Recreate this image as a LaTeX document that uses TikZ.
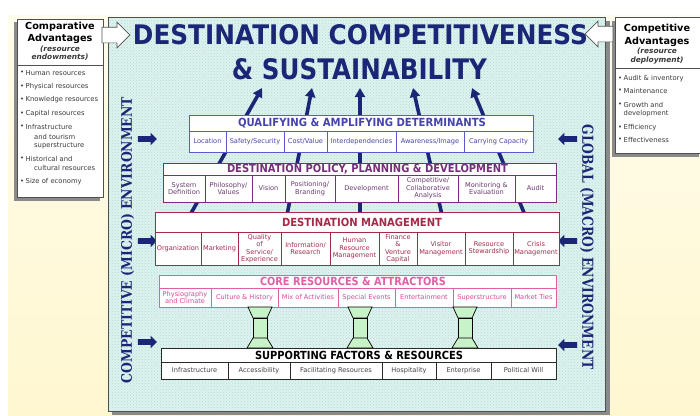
\documentclass[tikz,border=0pt]{standalone}
\usepackage{graphicx}
\usepackage{fontspec}
\setmainfont{DejaVu Sans}
\newfontfamily\slabfont{DejaVu Serif}
\usetikzlibrary{patterns,shapes.arrows,arrows.meta}

\definecolor{navy}{HTML}{1B2676}
\definecolor{creamtop}{HTML}{FFFDEC}
\definecolor{creambot}{HTML}{FFF7D0}
\definecolor{framefill}{HTML}{DDF3EF}
\definecolor{dotc}{HTML}{B2D9D3}
\definecolor{shadowgrey}{HTML}{8A8A8A}
\definecolor{framec}{HTML}{505050}
\definecolor{qadc}{HTML}{5A5AC8}
\definecolor{qadt}{HTML}{4444AA}
\definecolor{dppc}{HTML}{7A2C7E}
\definecolor{dppt}{HTML}{6A3A6E}
\definecolor{dmc}{HTML}{A82848}
\definecolor{dmt}{HTML}{A02C4C}
\definecolor{crac}{HTML}{E060A8}
\definecolor{crat}{HTML}{D84898}
\definecolor{sfrc}{HTML}{2A2A2A}
\definecolor{sfrt}{HTML}{404040}
\definecolor{pillarfill}{HTML}{C8F2C8}
\definecolor{bodytext}{HTML}{3A3A3A}

% text squeezed or stretched to a given width and cap height
\newcommand\fitbox[3]{\resizebox{#1pt}{#2pt}{#3}}
% one labelled cell of a layer: name, x0, x1, y0, y1, layer style, text
\newcommand\cellbox[7]{%
  \draw[#6] (#2,#4) rectangle (#3,#5);
  \node[celltext,#6,draw=none,fill=none] (#1) at ({(#2+#3)/2},{(#4+#5)/2}) {#7};}
% a column joining the core resources to the supporting factors
\newcommand\pillar[2]{%
  \coordinate (#1) at (#2,327);
  \filldraw[pillarstyle] (#2-12,307) -- (#2+12,307) -- (#2+7,318) -- (#2-7,318) -- cycle;
  \filldraw[pillarstyle] (#2-7,318) rectangle (#2+7,338);
  \filldraw[pillarstyle] (#2-7,338) -- (#2+7,338) -- (#2+13,348) -- (#2-13,348) -- cycle;}
% bulleted list entry: name, x, y, text
\newcommand\bitem[4]{%
  \node[bultext] (#1) at (#2,#3) {\textbullet};
  \node[bultext] (#1t) at (#2+5.5,#3) {#4};}

\begin{document}
\begin{tikzpicture}[x=1pt,y=-1pt,
  celltext/.style={font=\fontsize{6.6}{7.4}\selectfont, align=center, inner sep=0pt},
  hdr/.style={font=\bfseries, inner sep=0pt},
  bultext/.style={font=\fontsize{6.8}{7.6}\selectfont, text=bodytext, anchor=west, inner sep=0pt},
  qad/.style={draw=qadc, text=qadt, fill=white, line width=0.8pt},
  dpp/.style={draw=dppc, text=dppt, fill=white, line width=0.9pt},
  dm/.style={draw=dmc, text=dmt, fill=white, line width=0.9pt},
  cra/.style={draw=crac, text=crat, fill=white, line width=0.8pt},
  sfr/.style={draw=sfrc, text=sfrt, fill=white, line width=0.8pt},
  pillarstyle/.style={fill=pillarfill, draw=black, line width=0.7pt},
  fanarrow/.style={navy, line width=3.6pt, -{Triangle[length=9pt,width=10pt]}},
  envarrow/.style={single arrow, fill=navy, draw=none, minimum height=19pt,
    minimum width=12pt, inner sep=2.6pt, single arrow head extend=3.4pt},
  advarrow/.style={single arrow, fill=white, draw=framec, line width=0.7pt,
    minimum height=28pt, minimum width=25pt, inner sep=7.5pt, single arrow head extend=5pt},
  sidebox/.style={fill=white, draw=framec, line width=0.8pt}]

\useasboundingbox (0,0) rectangle (700,415);
\fill[white] (0,0) rectangle (700,415);
\shade[top color=creamtop, bottom color=creambot] (8,15) rectangle (700,415);

% central frame with its dotted cyan ground
\fill[shadowgrey] (112,21) rectangle (610,415);
\fill[framefill] (108,17) rectangle (605,411);
\fill[pattern=crosshatch dots, pattern color=dotc] (108,17) rectangle (605,411);
\draw[framec, line width=0.8pt] (108,17) rectangle (605,411);

% comparative advantages
\fill[shadowgrey] (14,22) rectangle (100,201);
\draw[sidebox] (17,19) rectangle (103,197);
\draw[framec, line width=0.8pt] (17,65) -- (103,65);
\node[font=\fontsize{9.7}{12}\selectfont\bfseries, align=center, inner sep=0pt] (cah) at (60,33) {Comparative\\Advantages};
\node[font=\fontsize{7.4}{8.2}\selectfont\bfseries\itshape, align=center, inner sep=0pt, text=bodytext] (cas) at (60,53) {(resource\\endowments)};
\bitem{ca1}{20}{73}{Human resources}
\bitem{ca2}{20}{87}{Physical resources}
\bitem{ca3}{20}{100}{Knowledge resources}
\bitem{ca4}{20}{114}{Capital resources}
\bitem{ca5}{20}{127}{Infrastructure}
\node[bultext] (ca5b) at (34,136.5) {and tourism};
\node[bultext] (ca5c) at (34,146) {superstructure};
\bitem{ca6}{20}{159}{Historical and}
\node[bultext] (ca6b) at (34,168) {cultural resources};
\bitem{ca7}{20}{182}{Size of economy}
\node[advarrow] (caarrow) at (112,35) {};

% competitive advantages
\fill[shadowgrey] (612,21) rectangle (699,157);
\draw[sidebox] (615,17) rectangle (703,153);
\draw[framec, line width=0.8pt] (615,68) -- (703,68);
\node[font=\fontsize{9.7}{12.5}\selectfont\bfseries, align=center, inner sep=0pt] (cdh) at (657,35.5) {Competitive\\Advantages};
\node[font=\fontsize{7.4}{9.5}\selectfont\bfseries\itshape, align=center, inner sep=0pt, text=bodytext] (cds) at (657,56) {(resource\\deployment)};
\bitem{cd1}{618}{79}{Audit \& inventory}
\bitem{cd2}{618}{91}{Maintenance}
\bitem{cd3}{618}{104.5}{Growth and}
\node[bultext] (cd3b) at (623.5,114) {development};
\bitem{cd4}{618}{128}{Efficiency}
\bitem{cd5}{618}{140}{Effectiveness}
\node[advarrow, shape border rotate=180] (cdarrow) at (603,34) {};

% title
\node[hdr, text=navy] (title1) at (360.5,35) {\fitbox{455}{20}{DESTINATION COMPETITIVENESS}};
\node[hdr, text=navy] (title2) at (359.5,69.5) {\fitbox{255}{21}{\& SUSTAINABILITY}};

% environment labels along the sides
\node[rotate=90, text=navy, inner sep=0pt] (micro) at (127.5,240) {\fitbox{286}{11}{\slabfont\bfseries COMPETITIVE (MICRO) ENVIRONMENT}};
\node[rotate=-90, text=navy, inner sep=0pt] (macro) at (587,247) {\fitbox{245}{11.5}{\slabfont\bfseries GLOBAL (MACRO) ENVIRONMENT}};
\node[envarrow] (ml1) at (146,139) {};
\node[envarrow] (ml2) at (146,241) {};
\node[envarrow] (ml3) at (146,342) {};
\node[envarrow, shape border rotate=180] (gl1) at (569,139) {};
\node[envarrow, shape border rotate=180] (gl2) at (569,241) {};
\node[envarrow, shape border rotate=180] (gl3) at (569,345) {};

% arrows rising from management to the title
\coordinate (fb1) at (190,215); \coordinate (ft1) at (262,88);
\coordinate (fb2) at (287,215); \coordinate (ft2) at (312,88);
\coordinate (fb3) at (360,215); \coordinate (ft3) at (360,88);
\coordinate (fb4) at (442,215); \coordinate (ft4) at (413,88);
\coordinate (fb5) at (525,215); \coordinate (ft5) at (472,88);
\foreach \i in {1,...,5} {\draw[fanarrow] (fb\i) -- (ft\i);}

% qualifying & amplifying determinants
\draw[qad] (189,115) rectangle (533,131);
\node[hdr, text=qadt] (qadh) at (362,123) {\fitbox{248}{8.3}{QUALIFYING \& AMPLIFYING DETERMINANTS}};
\cellbox{q1}{189}{226}{131}{152}{qad}{Location}
\cellbox{q2}{226}{284}{131}{152}{qad}{Safety/Security}
\cellbox{q3}{284}{327}{131}{152}{qad}{Cost/Value}
\cellbox{q4}{327}{396}{131}{152}{qad}{Interdependencies}
\cellbox{q5}{396}{464}{131}{152}{qad}{Awareness/Image}
\cellbox{q6}{464}{533}{131}{152}{qad}{Carrying Capacity}

% destination policy, planning & development
\draw[dpp] (163,163) rectangle (556,175);
\node[hdr, text=dppc] (dpph) at (367.5,169) {\fitbox{281}{8.3}{DESTINATION POLICY, PLANNING \& DEVELOPMENT}};
\cellbox{p1}{163}{205}{175}{202}{dpp}{System\\Definition}
\cellbox{p2}{205}{252}{175}{202}{dpp}{Philosophy/\\Values}
\cellbox{p3}{252}{285}{175}{202}{dpp}{Vision}
\cellbox{p4}{285}{335}{175}{202}{dpp}{Positioning/\\Branding}
\cellbox{p5}{335}{398}{175}{202}{dpp}{Development}
\cellbox{p6}{398}{458}{175}{202}{dpp}{Competitive/\\Collaborative\\Analysis}
\cellbox{p7}{458}{515}{175}{202}{dpp}{Monitoring \&\\Evaluation}
\cellbox{p8}{515}{556}{175}{202}{dpp}{Audit}

% destination management
\draw[dm] (155,212) rectangle (559,232);
\node[hdr, text=dmc] (dmh) at (362,222) {\fitbox{160}{8.3}{DESTINATION MANAGEMENT}};
\cellbox{m1}{155}{201}{232}{265}{dm}{Organization}
\cellbox{m2}{201}{238}{232}{265}{dm}{Marketing}
\cellbox{m3}{238}{281}{232}{265}{dm}{Quality\\of\\Service/\\Experience}
\cellbox{m4}{281}{330}{232}{265}{dm}{Information/\\Research}
\cellbox{m5}{330}{379}{232}{265}{dm}{Human\\Resource\\Management}
\cellbox{m6}{379}{417}{232}{265}{dm}{Finance\\\&\\Venture\\Capital}
\cellbox{m7}{417}{465}{232}{265}{dm}{Visitor\\Management}
\cellbox{m8}{465}{513}{232}{265}{dm}{Resource\\Stewardship}
\cellbox{m9}{513}{559}{232}{265}{dm}{Crisis\\Management}

% core resources & attractors
\draw[cra] (159,275) rectangle (556,288);
\node[hdr, text=crac] (crah) at (353,281.5) {\fitbox{186}{8.3}{CORE RESOURCES \& ATTRACTORS}};
\cellbox{c1}{159}{211}{288}{307}{cra}{Physiography\\and Climate}
\cellbox{c2}{211}{278}{288}{307}{cra}{Culture \& History}
\cellbox{c3}{278}{338}{288}{307}{cra}{Mix of Activities}
\cellbox{c4}{338}{395}{288}{307}{cra}{Special Events}
\cellbox{c5}{395}{453}{288}{307}{cra}{Entertainment}
\cellbox{c6}{453}{511}{288}{307}{cra}{Superstructure}
\cellbox{c7}{511}{556}{288}{307}{cra}{Market Ties}

% columns between the two lower layers
\pillar{col1}{260}
\pillar{col2}{360}
\pillar{col3}{465}

% supporting factors & resources
\draw[sfr] (161,348) rectangle (556,362);
\node[hdr, text=black] (sfrh) at (359,355) {\fitbox{208}{8.3}{SUPPORTING FACTORS \& RESOURCES}};
\cellbox{s1}{161}{228}{362}{379}{sfr}{Infrastructure}
\cellbox{s2}{228}{290}{362}{379}{sfr}{Accessibility}
\cellbox{s3}{290}{382}{362}{379}{sfr}{Facilitating Resources}
\cellbox{s4}{382}{436}{362}{379}{sfr}{Hospitality}
\cellbox{s5}{436}{491}{362}{379}{sfr}{Enterprise}
\cellbox{s6}{491}{556}{362}{379}{sfr}{Political Will}

\end{tikzpicture}
\end{document}
